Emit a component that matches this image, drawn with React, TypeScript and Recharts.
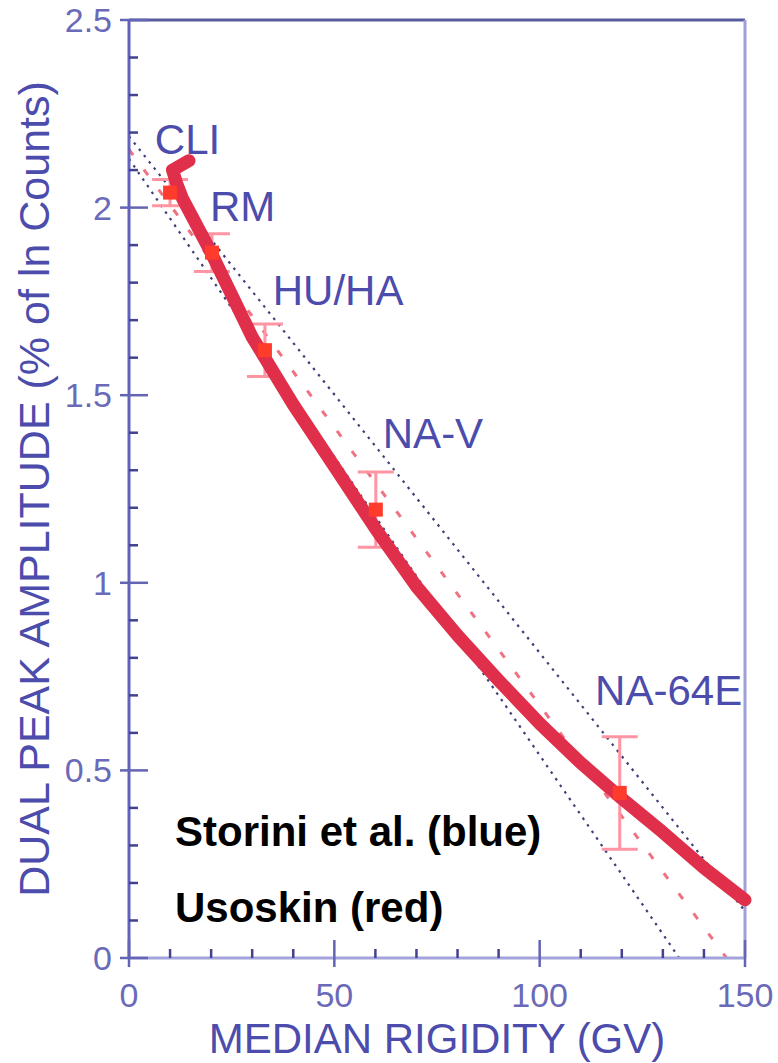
import { ComposedChart, Line, Scatter, ErrorBar, XAxis, YAxis, ReferenceLine, ReferenceDot, Label } from 'recharts';

// tick values
const xTicks = [0, 10, 20, 30, 40, 50, 60, 70, 80, 90, 100, 110, 120, 130, 140, 150];
const yTicks = [0, 0.1, 0.2, 0.3, 0.4, 0.5, 0.6, 0.7, 0.8, 0.9, 1, 1.1, 1.2, 1.3, 1.4, 1.5, 1.6, 1.7, 1.8, 1.9, 2, 2.1, 2.2, 2.3, 2.4, 2.5];

// Storini et al. (blue dotted band)
const storiniUpperX = [0, 150];
const storiniUpperY = [2.19, 0.125];
const storiniLowerX = [0, 134];
const storiniLowerY = [2.13, 0];

// Usoskin (red): dashed fit and thick curve
const usoskinFitX = [0, 145.5];
const usoskinFitY = [2.155, 0];
const usoskinCurveX = [14.6, 10.6, 11.6, 13, 20, 30, 40, 50, 60, 70, 80, 90, 100, 110, 120, 130, 140, 150];
const usoskinCurveY = [2.125, 2.1, 2.065, 2.025, 1.88, 1.655, 1.475, 1.31, 1.145, 0.99, 0.86, 0.74, 0.625, 0.52, 0.425, 0.335, 0.24, 0.155];

// neutron monitor stations
const stations = ['CLI', 'RM', 'HU/HA', 'NA-V', 'NA-64E'];
const stationRigidity = [10, 20.2, 33.1, 60.1, 119.5];
const stationAmplitude = [2.04, 1.88, 1.62, 1.195, 0.44];
const stationError = [0.035, 0.05, 0.07, 0.1, 0.15];

// where each station name sits (data units, text start / baseline)
const labelAnchors = [
  { x: 6.3, y: 2.144 },
  { x: 19.7, y: 1.963 },
  { x: 35, y: 1.741 },
  { x: 61.8, y: 1.36 },
  { x: 113.5, y: 0.675 },
];

const toPoints = (xs: number[], ys: number[]) => xs.map((x, i) => ({ x, y: ys[i] }));
const stationPoints = stations.map((name, i) => ({
  name, x: stationRigidity[i], y: stationAmplitude[i], err: stationError[i],
}));

const FONT = '"Liberation Sans", Arial, Helvetica, sans-serif';
const BLUE_TEXT = '#4c4cac';
const TICK_TEXT = '#6a6ab8';
const TICK_MINOR = '#42428e';
const TICK_MAJOR = '#6464b4';

const renderXTick = (props: any) => {
  const { x, y, payload } = props;
  const v = Number(payload.value);
  const major = v % 50 === 0;
  return (
    <g key={`xt-${v}`}>
      <path d={`M${x},${major ? y - 18 : y - 9}L${x},${major ? y + 9 : y}`}
        stroke={major ? TICK_MAJOR : TICK_MINOR} strokeWidth={2.5} fill="none" />
      {major && (
        <text x={x} y={y + 49} textAnchor="middle" fontSize={34} fill={TICK_TEXT} fontFamily={FONT}>{v}</text>
      )}
    </g>
  );
};

const renderYTick = (props: any) => {
  const { x, y, payload } = props;
  const v = Number(payload.value);
  const major = Math.abs(v * 2 - Math.round(v * 2)) < 1e-6;
  return (
    <g key={`yt-${v}`}>
      <path d={`M${major ? x - 9 : x},${y}L${major ? x + 19 : x + 9},${y}`}
        stroke={major ? TICK_MAJOR : TICK_MINOR} strokeWidth={2.5} fill="none" />
      {major && (
        <text x={x - 17} y={y + 12} textAnchor="end" fontSize={34} fill={TICK_TEXT} fontFamily={FONT}>{String(v)}</text>
      )}
    </g>
  );
};

const textAt = (value: string, style: any) => (p: any) => {
  const vb = p.viewBox;
  return (
    <text x={vb.x + vb.width / 2} y={vb.y + vb.height / 2} fontFamily={FONT} {...style}>{value}</text>
  );
};

const Square = (p: any) => (
  <rect x={p.cx - 7} y={p.cy - 7} width={14} height={14} fill="#ff3b2c" />
);

export default function App() {
  return (
    <div style={{ position: 'absolute', left: 0, top: 0, background: '#fff' }}>
      <ComposedChart width={778} height={1063} margin={{ top: 20, right: 33, bottom: 0, left: 0 }}>
        <XAxis type="number" dataKey="x" domain={[0, 150]} ticks={xTicks} interval={0}
          height={105} tickSize={0} tickMargin={0} tickLine={false} tick={renderXTick}
          axisLine={{ stroke: '#a4a4dc', strokeWidth: 3 }}>
          <Label content={(p: any) => (
            <text x={p.viewBox.x + p.viewBox.width / 2} y={p.viewBox.y + 95} textAnchor="middle"
              fontSize={42} fill={BLUE_TEXT} fontFamily={FONT}>MEDIAN RIGIDITY (GV)</text>
          )} />
        </XAxis>
        <YAxis type="number" domain={[0, 2.5]} ticks={yTicks} interval={0}
          width={129} tickSize={0} tickMargin={0} tickLine={false} tick={renderYTick}
          axisLine={{ stroke: '#6262bc', strokeWidth: 3 }}>
          <Label content={(p: any) => {
            const cx = p.viewBox.x + 49;
            const cy = p.viewBox.y + p.viewBox.height / 2;
            return (
              <text x={cx} y={cy} transform={`rotate(-90, ${cx}, ${cy})`} textAnchor="middle"
                fontSize={43} fill={BLUE_TEXT} fontFamily={FONT}>DUAL PEAK AMPLITUDE (% of ln Counts)</text>
            );
          }} />
        </YAxis>

        <ReferenceLine y={2.5} stroke="#5a5a9e" strokeWidth={3} />
        <ReferenceLine x={150} stroke="#a0a0d8" strokeWidth={3} />

        <Line data={toPoints(storiniUpperX, storiniUpperY)} dataKey="y" type="linear" dot={false}
          stroke="#3e3e78" strokeWidth={2.2} strokeDasharray="2.5 5.5" isAnimationActive={false} />
        <Line data={toPoints(storiniLowerX, storiniLowerY)} dataKey="y" type="linear" dot={false}
          stroke="#3e3e78" strokeWidth={2.2} strokeDasharray="2.5 5.5" isAnimationActive={false} />
        <Line data={toPoints(usoskinFitX, usoskinFitY)} dataKey="y" type="linear" dot={false}
          stroke="#f07282" strokeWidth={3} strokeDasharray="7 18" isAnimationActive={false} />

        <Scatter data={stationPoints} dataKey="y" shape={() => <g />} isAnimationActive={false}>
          <ErrorBar dataKey="err" direction="y" width={18} stroke="#ff94a2" strokeWidth={3} isAnimationActive={false} />
        </Scatter>

        <Line data={toPoints(usoskinCurveX, usoskinCurveY)} dataKey="y" type="linear" dot={false}
          stroke="#e02f4a" strokeWidth={13} strokeLinecap="round" strokeLinejoin="round" isAnimationActive={false} />

        <Scatter data={stationPoints} dataKey="y" shape={Square} isAnimationActive={false} />

        {stations.map((name, i) => (
          <ReferenceDot key={name} x={labelAnchors[i].x} y={labelAnchors[i].y} r={0} fill="none" stroke="none"
            label={textAt(name, { fontSize: 42, fill: BLUE_TEXT })} />
        ))}

        <ReferenceDot x={11.2} y={0.299} r={0} fill="none" stroke="none"
          label={textAt('Storini et al. (blue)', { fontSize: 42, fontWeight: 'bold', fill: '#000' })} />
        <ReferenceDot x={11.2} y={0.096} r={0} fill="none" stroke="none"
          label={textAt('Usoskin (red)', { fontSize: 42, fontWeight: 'bold', fill: '#000' })} />
      </ComposedChart>
    </div>
  );
}
